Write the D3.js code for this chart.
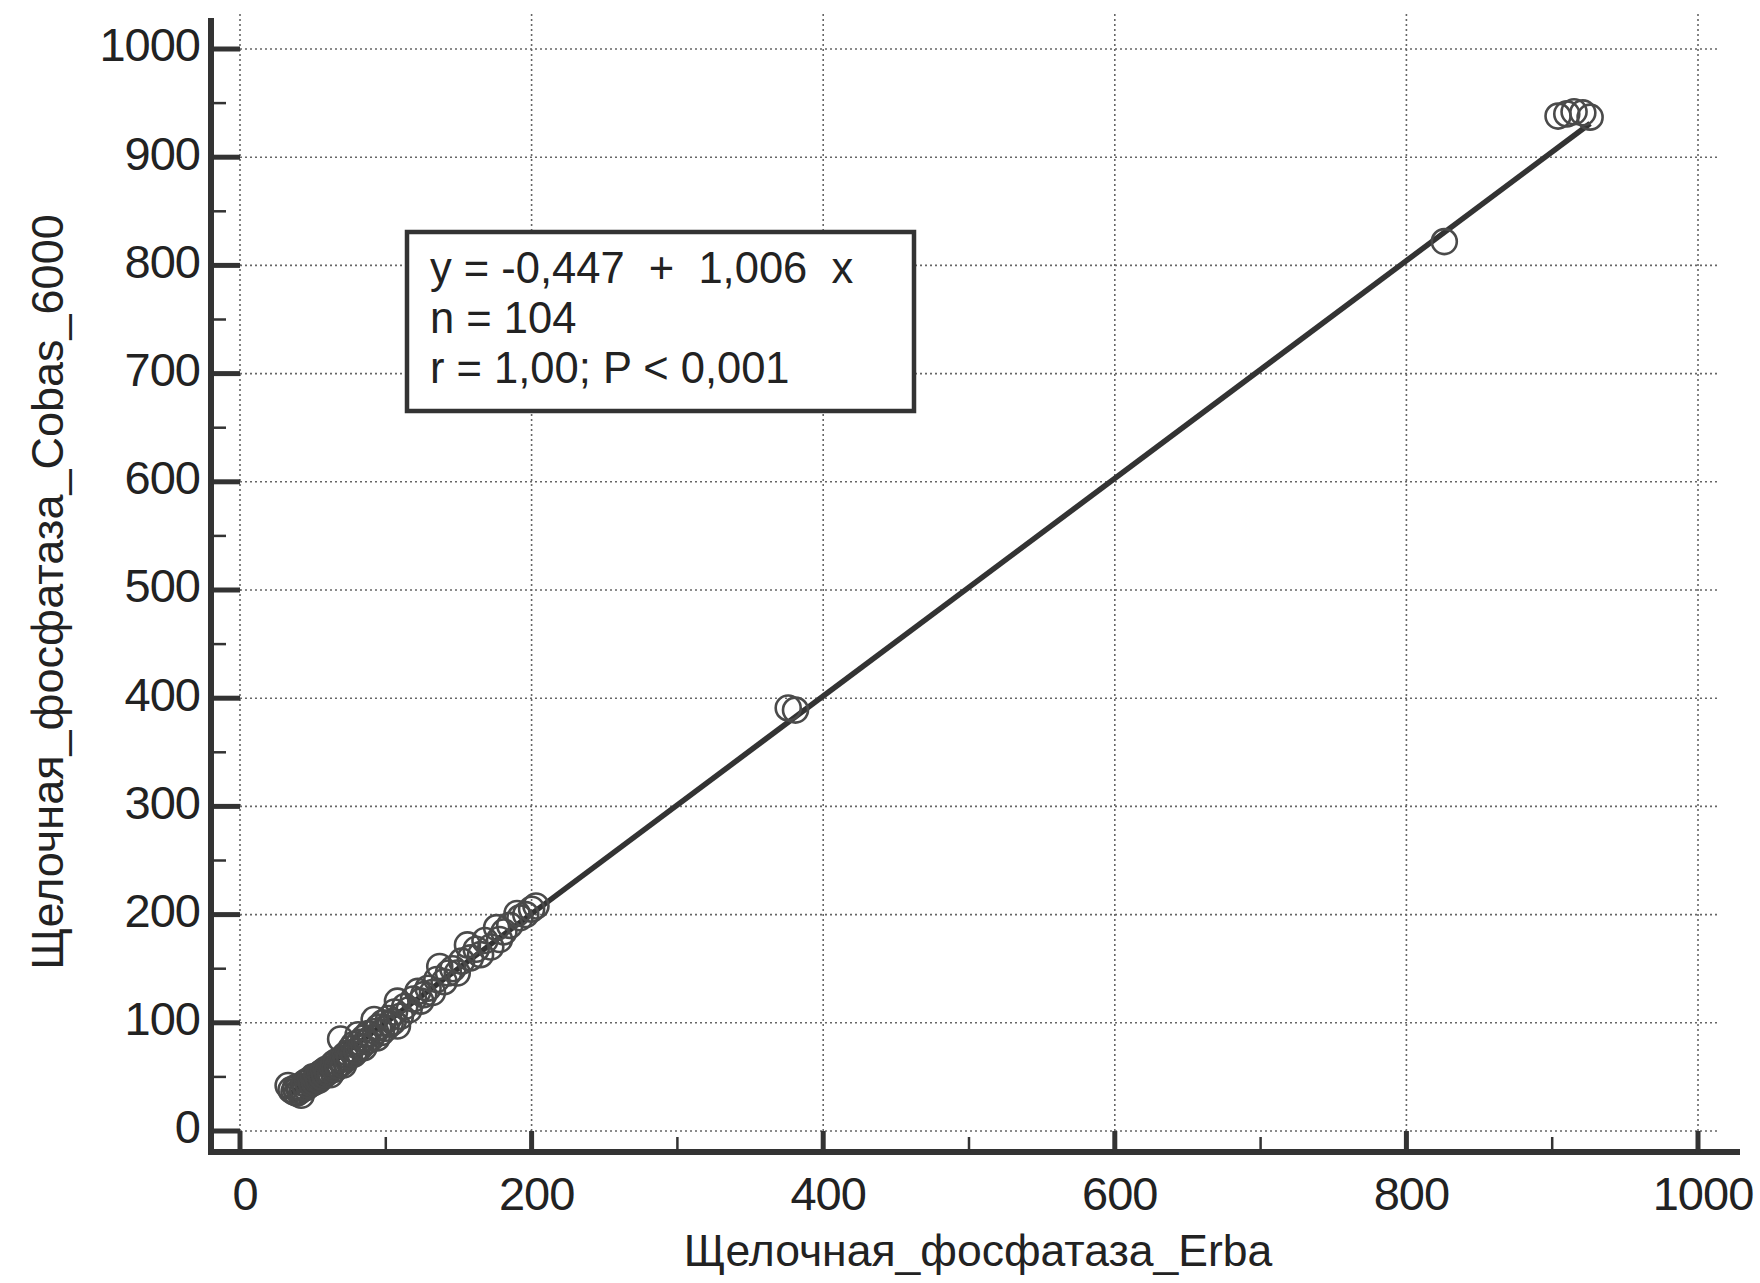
<!DOCTYPE html>
<html>
<head>
<meta charset="utf-8">
<script src="https://cdn.jsdelivr.net/npm/d3@7"></script>
<style>
  body { margin: 0; background: #fff; }
  #container { width: 1760px; height: 1283px; }
</style>
</head>
<body>
<div id="container"></div>
<script>
// Erba (x) vs Cobas 6000 (y)
const erba = [
  33, 35, 37, 38, 39, 40, 41, 42, 43, 44, 45, 46, 47, 48, 49, 50, 51, 52, 53, 54, 55, 56, 57, 58, 59, 60,
  62, 63, 64, 65, 66, 67, 69, 69, 70, 71, 72, 73, 74, 75, 76, 78, 78, 80, 81, 82, 83, 85, 85, 87,
  88, 90, 92, 93, 94, 95, 97, 98, 100, 102, 103, 105, 106, 108, 108, 110,
  113, 116, 119, 122, 124, 126, 129, 132, 135, 137, 140, 143, 146, 149, 152, 156, 158, 162, 165, 168,
  172, 176, 178, 181, 185, 190, 192, 196, 200, 203,
  376, 381, 826, 904, 910, 915, 921, 926
];
const cobas = [
  42, 38, 36, 40, 35, 41, 37, 33, 39, 44, 40, 46, 42, 47, 44, 50, 45, 48, 51, 47, 53, 50, 55, 52, 57, 54,
  52, 60, 62, 57, 64, 60, 66, 85, 63, 61, 70, 67, 72, 69, 76, 71, 80, 74, 89, 82, 78, 77, 86, 83,
  90, 86, 103, 92, 86, 96, 91, 100, 95, 104, 99, 101, 110, 97, 120, 106,
  115, 112, 122, 129, 120, 126, 132, 128, 140, 152, 138, 146, 150, 146, 157, 172, 160, 168, 163, 176,
  170, 188, 177, 184, 190, 201, 197, 200, 205, 208,
  391, 389, 822, 938, 940, 942, 941, 937
];

const xTicks = [0, 200, 400, 600, 800, 1000];
const yTicks = [0, 100, 200, 300, 400, 500, 600, 700, 800, 900, 1000];
const xMinor = [100, 300, 500, 700, 900];
const yMinor = [50, 150, 250, 350, 450, 550, 650, 750, 850, 950];

const intercept = -0.447, slope = 1.006;
const statLines = ["y = -0,447  +  1,006  x", "n = 104", "r = 1,00; P < 0,001"];

const xTitle = "Щелочная_фосфатаза_Erba";
const yTitle = "Щелочная_фосфатаза_Cobas_6000";

document.addEventListener("DOMContentLoaded", function() {
    const width = 1760, height = 1283;
    const ink = "#333";

    const x = d3.scaleLinear().domain([0, 1000]).range([240, 1698]);
    const y = d3.scaleLinear().domain([0, 1000]).range([1131, 49]);

    const axisX = 211;   // vertical axis line, offset left of x=0
    const axisY = 1152;  // horizontal axis line, offset below y=0

    const svg = d3.create("svg")
        .attr("width", width)
        .attr("height", height)
        .attr("viewBox", [0, 0, width, height])
        .attr("font-family", "'Liberation Sans', Arial, sans-serif");

    svg.append("rect").attr("width", width).attr("height", height).attr("fill", "#fff");

    // dotted grid
    const grid = svg.append("g")
        .attr("stroke", "#666")
        .attr("stroke-width", 1.6)
        .attr("stroke-dasharray", "2,3");
    grid.selectAll("line.h")
      .data(yTicks)
      .join("line")
        .attr("x1", x(0)).attr("x2", 1720)
        .attr("y1", d => y(d)).attr("y2", d => y(d));
    grid.selectAll("line.v")
      .data(xTicks)
      .join("line")
        .attr("x1", d => x(d)).attr("x2", d => x(d))
        .attr("y1", 14).attr("y2", y(0));

    // axes with ticks pointing into the plot
    const axes = svg.append("g").attr("stroke", ink).attr("stroke-linecap", "butt");
    axes.append("line")
        .attr("x1", axisX).attr("x2", axisX)
        .attr("y1", 18).attr("y2", axisY + 3)
        .attr("stroke-width", 6);
    axes.append("line")
        .attr("x1", axisX - 3).attr("x2", 1740)
        .attr("y1", axisY).attr("y2", axisY)
        .attr("stroke-width", 6);

    axes.selectAll("line.ym")
      .data(yTicks)
      .join("line")
        .attr("x1", axisX).attr("x2", x(0))
        .attr("y1", d => y(d)).attr("y2", d => y(d))
        .attr("stroke-width", 5);
    axes.selectAll("line.yn")
      .data(yMinor)
      .join("line")
        .attr("x1", axisX).attr("x2", axisX + 15)
        .attr("y1", d => y(d)).attr("y2", d => y(d))
        .attr("stroke-width", 2.5);
    axes.selectAll("line.xm")
      .data(xTicks)
      .join("line")
        .attr("x1", d => x(d)).attr("x2", d => x(d))
        .attr("y1", axisY).attr("y2", y(0))
        .attr("stroke-width", 5);
    axes.selectAll("line.xn")
      .data(xMinor)
      .join("line")
        .attr("x1", d => x(d)).attr("x2", d => x(d))
        .attr("y1", axisY).attr("y2", axisY - 15)
        .attr("stroke-width", 2.5);

    // tick labels
    svg.append("g")
        .attr("font-size", 47)
        .attr("fill", "#222")
        .attr("text-anchor", "end")
        .attr("letter-spacing", -1)
      .selectAll("text")
      .data(yTicks)
      .join("text")
        .attr("x", 200)
        .attr("y", d => y(d) - 4)
        .attr("dy", "0.35em")
        .text(d => d);
    svg.append("g")
        .attr("font-size", 47)
        .attr("fill", "#222")
        .attr("text-anchor", "middle")
        .attr("letter-spacing", -1)
      .selectAll("text")
      .data(xTicks)
      .join("text")
        .attr("x", d => x(d) + 5)
        .attr("y", 1210)
        .text(d => d);

    // axis titles
    svg.append("text")
        .attr("x", 978).attr("y", 1266)
        .attr("text-anchor", "middle")
        .attr("font-size", 44.5)
        .attr("fill", "#222")
        .text(xTitle);
    svg.append("text")
        .attr("transform", "translate(63,592) rotate(-90)")
        .attr("text-anchor", "middle")
        .attr("font-size", 45)
        .attr("fill", "#222")
        .text(yTitle);

    // regression line over the data range
    const [xmin, xmax] = d3.extent(erba);
    svg.append("line")
        .attr("x1", x(xmin)).attr("y1", y(intercept + slope * xmin))
        .attr("x2", x(xmax)).attr("y2", y(intercept + slope * xmax))
        .attr("stroke", ink)
        .attr("stroke-width", 5.5);

    // points
    svg.append("g")
        .attr("fill", "none")
        .attr("stroke", "#4a4a4a")
        .attr("stroke-width", 2.6)
      .selectAll("circle")
      .data(d3.range(erba.length))
      .join("circle")
        .attr("cx", i => x(erba[i]))
        .attr("cy", i => y(cobas[i]))
        .attr("r", 12.5);

    // statistics box
    const box = svg.append("g");
    box.append("rect")
        .attr("x", 407).attr("y", 232)
        .attr("width", 507).attr("height", 179)
        .attr("fill", "#fff")
        .attr("stroke", ink)
        .attr("stroke-width", 4.5);
    box.selectAll("text")
      .data(statLines)
      .join("text")
        .attr("x", 430)
        .attr("y", (d, i) => 283 + i * 50)
        .attr("font-size", 43.5)
        .attr("fill", "#222")
        .style("white-space", "pre")
        .text(d => d);

    document.getElementById("container").append(svg.node());
});
</script>
</body>
</html>
